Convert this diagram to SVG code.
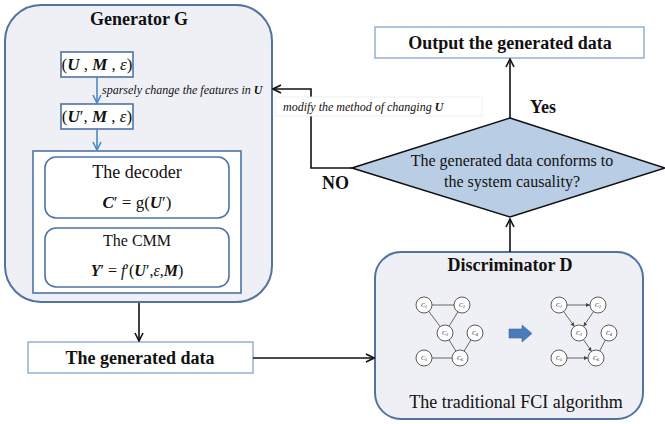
<svg xmlns="http://www.w3.org/2000/svg" width="665" height="424" viewBox="0 0 665 424">
<defs>
<style>
text{font-family:"Liberation Serif","Times New Roman",serif;fill:#111}
.b{font-weight:bold}
.i{font-style:italic}
.bi{font-weight:bold;font-style:italic}
.panel{fill:#eff0f5;stroke:#52739e;stroke-width:2}
.wbox{fill:#fff;stroke:#4f73a5;stroke-width:1.6}
.lbox{fill:#fff;stroke:#8eaad0;stroke-width:1.4}
.conn{fill:none;stroke:#111;stroke-width:1.6}
.bconn{fill:none;stroke:#4f86c6;stroke-width:1.6}
.node{fill:#fff;stroke:#333;stroke-width:0.8}
.edge{stroke:#444;stroke-width:0.8;fill:none}
.nl{font-size:6px;font-style:italic}
</style>
<marker id="ab" markerUnits="userSpaceOnUse" viewBox="0 0 10 10" refX="9" refY="5" markerWidth="10" markerHeight="10" orient="auto">
<path d="M1,1 L9,5 L1,9" fill="none" stroke="#111" stroke-width="1.6"/>
</marker>
<marker id="abl" markerUnits="userSpaceOnUse" viewBox="0 0 10 10" refX="9" refY="5" markerWidth="10" markerHeight="10" orient="auto">
<path d="M1,1 L9,5 L1,9" fill="none" stroke="#4f86c6" stroke-width="1.6"/>
</marker>
<marker id="as" markerUnits="userSpaceOnUse" viewBox="0 0 6 6" refX="6" refY="3" markerWidth="4" markerHeight="4" orient="auto">
<path d="M0,0 L6,3 L0,6 Z" fill="#444"/>
</marker>
</defs>

<g id="generator">
<rect class="panel" x="5" y="5" width="267" height="297" rx="36"/>
<text class="b" x="139" y="25" font-size="18" text-anchor="middle">Generator G</text>
</g>

<g id="umeps">
<rect class="wbox" x="61" y="52" width="72" height="25"/>
<text x="97" y="70" font-size="17" text-anchor="middle">(<tspan class="bi">U</tspan> , <tspan class="bi">M</tspan> , <tspan class="i">ε</tspan>)</text>
</g>

<g id="upmeps">
<rect class="wbox" x="61" y="104" width="72" height="25"/>
<text x="97" y="122" font-size="17" text-anchor="middle">(<tspan class="bi">U</tspan>′, <tspan class="bi">M</tspan> , <tspan class="i">ε</tspan>)</text>
</g>

<g id="inner">
<rect class="wbox" x="33" y="151" width="208" height="142"/>
</g>

<g id="decoder">
<rect class="wbox" x="45" y="157" width="184" height="61" rx="11"/>
<text x="137" y="178" font-size="18" text-anchor="middle">The decoder</text>
<text x="137" y="208" font-size="17" text-anchor="middle"><tspan class="bi">C</tspan>′ = g(<tspan class="bi">U</tspan>′)</text>
</g>

<g id="cmm">
<rect class="wbox" x="45" y="228" width="184" height="59" rx="11"/>
<text x="137" y="246" font-size="16" text-anchor="middle">The CMM</text>
<text x="137" y="276" font-size="16" text-anchor="middle"><tspan class="bi">Y</tspan>′ = <tspan class="i">f</tspan>′(<tspan class="bi">U</tspan>′,<tspan class="i">ε</tspan>,<tspan class="bi">M</tspan>)</text>
</g>

<g id="generated">
<rect class="lbox" x="28" y="342" width="225" height="31"/>
<text class="b" x="140" y="364" font-size="18" text-anchor="middle">The generated data</text>
</g>

<g id="output">
<rect class="lbox" x="375" y="27" width="269" height="31"/>
<text class="b" x="510" y="49" font-size="18" text-anchor="middle">Output the generated data</text>
</g>

<g id="decision">
<path d="M510,118 L665,168 L510,217 L352,168 Z" fill="#b9cde5" stroke="#111" stroke-width="1.6"/>
<text x="512" y="166" font-size="16" text-anchor="middle">The generated data conforms to</text>
<text x="512" y="187" font-size="16" text-anchor="middle">the system causality?</text>
</g>

<g id="discriminator">
<rect class="panel" x="375" y="252" width="268" height="167" rx="26"/>
<text class="b" x="510" y="271" font-size="18" text-anchor="middle">Discriminator D</text>
<text x="516" y="408" font-size="18" text-anchor="middle">The traditional FCI algorithm</text>
<g id="graph-left">
<line class="edge" x1="424" y1="305" x2="462" y2="305"/>
<line class="edge" x1="424" y1="305" x2="445" y2="333"/>
<line class="edge" x1="462" y1="305" x2="445" y2="333"/>
<line class="edge" x1="445" y1="333" x2="460" y2="358"/>
<line class="edge" x1="475" y1="333" x2="460" y2="358"/>
<line class="edge" x1="424" y1="358" x2="460" y2="358"/>
<circle class="node" cx="424" cy="305" r="8"/>
<circle class="node" cx="462" cy="305" r="8"/>
<circle class="node" cx="445" cy="333" r="8"/>
<circle class="node" cx="475" cy="333" r="8"/>
<circle class="node" cx="424" cy="358" r="8"/>
<circle class="node" cx="460" cy="358" r="8"/>
<text class="nl" x="424" y="307" text-anchor="middle">C<tspan font-size="4" dy="1">1</tspan></text>
<text class="nl" x="462" y="307" text-anchor="middle">C<tspan font-size="4" dy="1">2</tspan></text>
<text class="nl" x="445" y="335" text-anchor="middle">C<tspan font-size="4" dy="1">3</tspan></text>
<text class="nl" x="475" y="335" text-anchor="middle">C<tspan font-size="4" dy="1">4</tspan></text>
<text class="nl" x="424" y="360" text-anchor="middle">C<tspan font-size="4" dy="1">5</tspan></text>
<text class="nl" x="460" y="360" text-anchor="middle">C<tspan font-size="4" dy="1">6</tspan></text>
</g>
<path d="M509,329 H522 V325 L532,333.5 L522,342 V338 H509 Z" fill="#4a7cbc" stroke="#3d6aa6" stroke-width="0.6"/>
<g id="graph-right">
<line class="edge" x1="567" y1="305" x2="590" y2="305" marker-end="url(#as)"/>
<line class="edge" x1="563.6" y1="311.5" x2="574.4" y2="326.5" marker-end="url(#as)"/>
<line class="edge" x1="593.5" y1="311.6" x2="583.5" y2="326.4" marker-end="url(#as)"/>
<line class="edge" x1="583.5" y1="339.6" x2="591.5" y2="351.4" marker-end="url(#as)"/>
<line class="edge" x1="609" y1="333" x2="596" y2="358"/>
<line class="edge" x1="567" y1="358" x2="588" y2="358" marker-end="url(#as)"/>
<circle class="node" cx="559" cy="305" r="8"/>
<circle class="node" cx="598" cy="305" r="8"/>
<circle class="node" cx="579" cy="333" r="8"/>
<circle class="node" cx="609" cy="333" r="8"/>
<circle class="node" cx="559" cy="358" r="8"/>
<circle class="node" cx="596" cy="358" r="8"/>
<text class="nl" x="559" y="307" text-anchor="middle">C<tspan font-size="4" dy="1">1</tspan></text>
<text class="nl" x="598" y="307" text-anchor="middle">C<tspan font-size="4" dy="1">2</tspan></text>
<text class="nl" x="579" y="335" text-anchor="middle">C<tspan font-size="4" dy="1">3</tspan></text>
<text class="nl" x="609" y="335" text-anchor="middle">C<tspan font-size="4" dy="1">4</tspan></text>
<text class="nl" x="559" y="360" text-anchor="middle">C<tspan font-size="4" dy="1">5</tspan></text>
<text class="nl" x="596" y="360" text-anchor="middle">C<tspan font-size="4" dy="1">6</tspan></text>
</g>
</g>

<g id="connectors">
<path class="bconn" d="M97,77 V103" marker-end="url(#abl)"/>
<path class="bconn" d="M97,129 V150" marker-end="url(#abl)"/>
<path class="conn" d="M139,303 V341" marker-end="url(#ab)"/>
<path class="conn" d="M253,358 H374" marker-end="url(#ab)"/>
<path class="conn" d="M510,252 V219" marker-end="url(#ab)"/>
<path class="conn" d="M510,118 V59" marker-end="url(#ab)"/>
<path class="conn" d="M352,168 H311 V89 H273" marker-end="url(#ab)"/>
<rect x="275" y="97" width="207" height="19" fill="#fff" stroke="#ececec" stroke-width="0.8"/>
<text class="i" x="283" y="111" font-size="12">modify the method of changing <tspan class="bi">U</tspan></text>
<text class="i" x="102" y="94" font-size="12">sparsely change the features in <tspan class="bi">U</tspan></text>
<text class="b" x="322" y="189" font-size="18">NO</text>
<text class="b" x="530" y="113" font-size="18">Yes</text>
</g>
</svg>
